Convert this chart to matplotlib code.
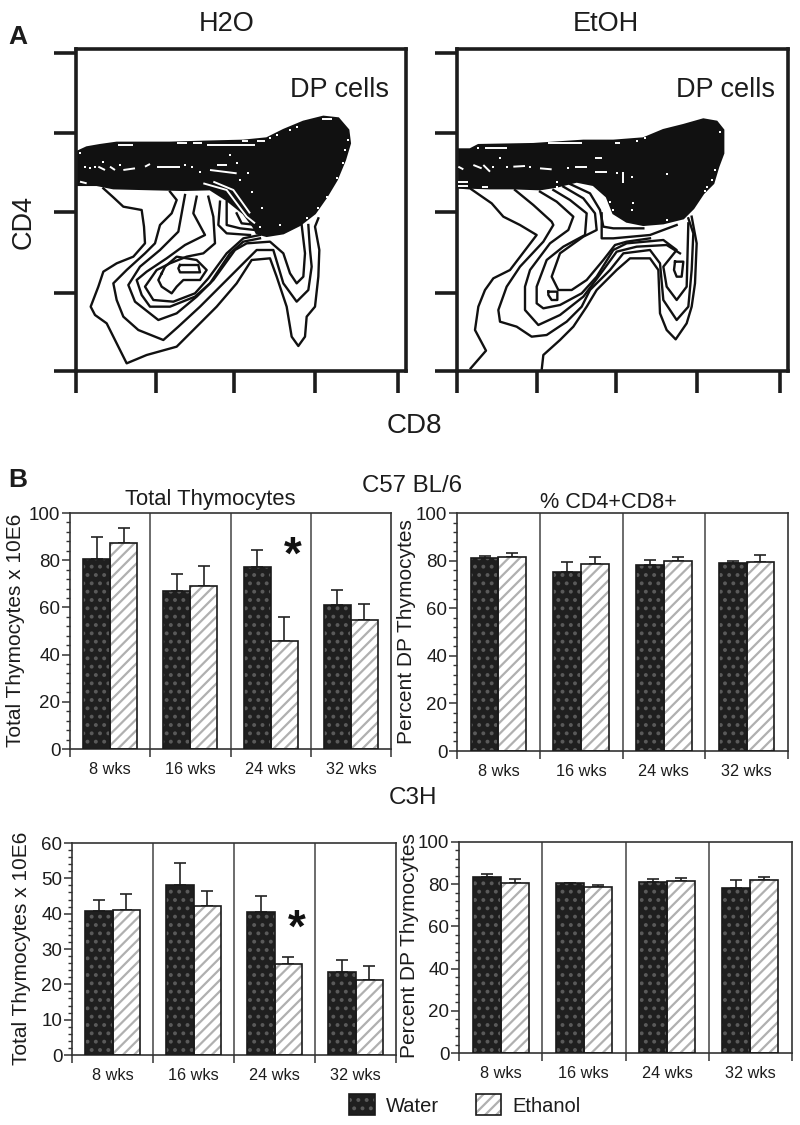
import matplotlib
matplotlib.use("Agg")
import numpy as np
from matplotlib import pyplot as plt
from matplotlib.legend_handler import HandlerTuple
from matplotlib.patches import Patch
from matplotlib.ticker import MultipleLocator

plt.rcParams['font.family'] = ['Liberation Sans', 'DejaVu Sans']
plt.rcParams['hatch.linewidth'] = 1.6

W, H = 800, 1125
INK = '#1c1c1c'

weeks = ['8 wks', '16 wks', '24 wks', '32 wks']

# bar heights and top of the error bars
c57_total_water = [80.5, 67.0, 77.3, 61.0]
c57_total_etoh = [87.5, 69.0, 45.7, 54.5]
c57_total_water_top = [89.7, 74.3, 84.5, 67.5]
c57_total_etoh_top = [93.8, 77.5, 55.8, 61.5]

c57_dp_water = [81.3, 75.3, 78.2, 78.8]
c57_dp_etoh = [81.7, 78.5, 80.0, 79.5]
c57_dp_water_top = [81.8, 79.5, 80.3, 80.0]
c57_dp_etoh_top = [83.2, 81.5, 81.5, 82.2]

c3h_total_water = [40.8, 48.2, 40.5, 23.5]
c3h_total_etoh = [41.0, 42.2, 25.8, 21.2]
c3h_total_water_top = [43.9, 54.3, 45.1, 26.9]
c3h_total_etoh_top = [45.5, 46.5, 27.8, 25.2]

c3h_dp_water = [83.3, 80.5, 81.2, 78.0]
c3h_dp_etoh = [80.7, 78.5, 81.3, 82.0]
c3h_dp_water_top = [85.0, 80.8, 82.3, 82.0]
c3h_dp_etoh_top = [82.3, 79.5, 82.8, 83.5]

# flow plots, in plot channels
h2o_blob = [(22, 125), (50, 112), (90, 105), (140, 98), (300, 98), (400, 95), (520, 92), (590, 85), (640, 60),
            (700, 35), (760, 20), (805, 25), (835, 60), (840, 100), (825, 150), (800, 210), (770, 260), (735, 310),
            (690, 345), (640, 370), (590, 378), (560, 370), (550, 350), (520, 310), (470, 270), (420, 238),
            (340, 240), (250, 238), (130, 235), (80, 225), (22, 225)]
h2o_contours = [
    [(100, 235), (130, 262), (160, 290), (215, 300), (222, 350), (225, 400), (190, 440), (140, 460), (100, 485),
     (85, 530), (62, 590), (75, 615), (110, 640), (135, 690), (170, 760), (230, 735), (320, 710), (380, 650),
     (440, 590), (500, 520), (545, 450), (600, 445), (620, 500), (650, 590), (665, 680), (685, 708), (705, 680),
     (710, 620), (735, 590), (745, 500), (748, 420), (735, 350), (745, 325)],
    [(300, 245), (320, 270), (305, 310), (270, 345), (255, 400), (225, 430), (170, 480), (130, 520), (140, 570),
     (160, 620), (205, 660), (280, 690), (325, 650), (390, 590), (450, 530), (510, 470), (560, 420), (610, 420),
     (640, 520), (680, 575), (715, 540), (725, 470), (720, 420), (715, 345)],
    [(345, 255), (335, 310), (325, 365), (270, 420), (210, 470), (175, 525), (195, 575), (265, 630), (320, 610),
     (380, 560), (430, 510), (495, 420), (530, 400), (600, 395), (640, 430), (660, 490), (680, 520), (700, 500),
     (705, 430), (695, 345)],
    [(380, 260), (370, 310), (405, 375), (345, 405), (290, 445), (230, 485), (200, 510), (215, 555), (240, 590),
     (300, 590), (375, 560), (420, 520), (480, 430), (520, 395), (570, 385)],
    [(415, 260), (430, 320), (435, 400), (400, 430), (350, 440), (300, 460), (260, 480), (225, 530), (250, 570),
     (310, 575), (375, 550), (415, 505), (470, 430), (520, 385), (570, 375)],
    [(450, 275), (445, 345), (470, 370), (540, 375)],
    [(470, 275), (470, 345), (510, 355), (555, 360)],
    [(500, 310), (515, 340), (560, 345)],
    [(275, 490), (285, 470), (320, 440), (380, 450), (410, 480), (390, 510), (340, 510), (320, 530), (305, 550),
     (275, 530), (265, 510), (275, 490)],
    [(330, 465), (385, 465), (390, 487), (330, 487), (325, 475), (330, 465)],
]
h2o_gaps = [
    [(145, 105), (190, 105)], [(320, 98), (350, 98)], [(370, 100), (395, 100)], [(410, 105), (555, 105)],
    [(515, 92), (535, 92)], [(560, 92), (585, 92)], [(440, 165), (470, 165)], [(420, 180), (500, 190)],
    [(30, 215), (50, 220)], [(225, 170), (240, 162)], [(260, 172), (330, 172)], [(160, 180), (195, 175)],
    [(85, 170), (105, 180)], [(120, 170), (135, 180)], [(400, 220), (470, 240), (530, 320), (555, 340)],
    [(430, 215), (490, 240), (540, 310)], [(755, 28), (785, 28)],
]
h2o_specks_x = [30, 45, 60, 75, 100, 150, 345, 365, 390, 480, 500, 510, 535, 545, 575, 570, 630, 710, 820, 800, 770,
                745, 620, 660, 835, 825, 600, 680]
h2o_specks_y = [130, 170, 175, 172, 155, 165, 165, 172, 185, 135, 160, 210, 190, 245, 295, 350, 345, 325, 160, 205, 260,
                295, 75, 60, 90, 120, 85, 50]

etoh_blob = [(22, 118), (60, 118), (85, 105), (250, 102), (400, 92), (490, 92), (580, 85), (640, 60), (700, 45),
             (760, 28), (800, 35), (820, 60), (820, 130), (805, 170), (790, 220), (760, 250), (730, 295), (700, 325),
             (640, 340), (580, 345), (530, 335), (490, 310), (470, 260), (430, 225), (380, 215), (320, 230),
             (270, 238), (190, 235), (120, 235), (22, 232)]
etoh_contours = [
    [(62, 775), (108, 722), (75, 660), (85, 590), (105, 540), (130, 505), (180, 480), (260, 375), (210, 345),
     (160, 320), (125, 280), (60, 235), (22, 232)],
    [(275, 780), (280, 735), (330, 690), (370, 650), (410, 590), (440, 540), (500, 480), (540, 445), (600, 445),
     (625, 480), (630, 610), (650, 660), (677, 688), (710, 640), (725, 590), (735, 520), (740, 400), (725, 320)],
    [(195, 240), (250, 285), (305, 335), (310, 345), (280, 395), (210, 470), (170, 530), (145, 600), (150, 635),
     (200, 650), (245, 680), (290, 675), (350, 635), (395, 590), (420, 540), (480, 480), (520, 430), (600, 420),
     (630, 460), (640, 570), (680, 630), (715, 590), (725, 480), (730, 370), (715, 325)],
    [(270, 245), (320, 275), (370, 320), (355, 360), (300, 400), (240, 480), (225, 530), (225, 600), (265, 645),
     (330, 615), (400, 560), (460, 480), (500, 425), (560, 410), (650, 405), (690, 430)],
    [(310, 240), (360, 270), (410, 310), (405, 375), (340, 410), (290, 450), (260, 530), (260, 580), (280, 595),
     (330, 585), (395, 550), (440, 500), (490, 420), (530, 400), (640, 390), (680, 420), (640, 470), (650, 530),
     (680, 570), (710, 530), (715, 340)],
    [(340, 230), (400, 265), (435, 310), (440, 360), (400, 380), (330, 430), (305, 500), (325, 540), (365, 540),
     (410, 510), (460, 450), (495, 405), (530, 395), (600, 385)],
    [(360, 222), (420, 250), (450, 300), (460, 350), (490, 355), (580, 355)],
    [(455, 310), (455, 385), (490, 385), (600, 375), (680, 345)],
    [(295, 545), (322, 545), (322, 570), (305, 570), (295, 555), (295, 545)],
    [(675, 455), (700, 455), (695, 500), (680, 500), (672, 480), (675, 455)],
]
etoh_gaps = [
    [(105, 115), (170, 115)], [(295, 98), (395, 98)], [(435, 143), (455, 143)], [(190, 170), (225, 168)],
    [(270, 175), (305, 178)], [(375, 172), (410, 172)], [(435, 185), (470, 185)], [(520, 185), (520, 220)],
    [(25, 170), (40, 178)], [(70, 165), (95, 175)], [(100, 165), (120, 185)], [(25, 215), (55, 215)],
    [(25, 228), (55, 228)], [(95, 230), (115, 230)], [(495, 98), (510, 98)],
]
etoh_specks_x = [85, 150, 130, 170, 240, 320, 355, 500, 545, 650, 795, 785, 770, 765, 810, 320, 480, 490, 550, 545,
                 650, 560, 585]
etoh_specks_y = [113, 143, 170, 172, 170, 215, 175, 190, 200, 192, 180, 210, 230, 243, 65, 230, 275, 300, 280, 300,
                 330, 92, 85]


def px_rect(left, top, right, bottom):
    return [left / W, 1 - bottom / H, (right - left) / W, (bottom - top) / H]


def put_text(x, y, s, **kw):
    kw.setdefault('ha', 'center')
    kw.setdefault('va', 'center')
    kw.setdefault('color', INK)
    fig.text(x / W, 1 - y / H, s, **kw)


def flow_panel(rect, xlim, xticks, blob, contours, gaps, specks_x, specks_y):
    ax = fig.add_axes(px_rect(*rect))
    ax.fill(*zip(*blob), color='#111111', lw=1.5, zorder=2)
    for line in contours:
        ax.plot(*zip(*line), color='#111111', lw=1.7, zorder=1)
    for line in gaps:
        ax.plot(*zip(*line), color='white', lw=1.4, zorder=3, solid_capstyle='butt')
    ax.scatter(specks_x, specks_y, s=3.5, color='white', marker='s', linewidths=0, zorder=3)
    ax.set_xlim(*xlim)
    ax.set_ylim(783, -183)
    ax.set_xticks(xticks)
    ax.set_yticks([783, 549, 306, 69, -171])
    ax.tick_params(length=16, width=2.6, color=INK, labelbottom=False, labelleft=False)
    for s in ax.spines.values():
        s.set_linewidth(2.6)
        s.set_color(INK)
    return ax


def bar_panel(rect, water, etoh, water_top, etoh_top, ymax, major, minor, sep_color='#444444'):
    ax = fig.add_axes(px_rect(*rect))
    pos = np.arange(4) + 0.5
    wid = 0.335
    for off, vals, tops, face, hatch, hatch_col in [(-wid / 2, water, water_top, '#1f1f1f', '..', '#5a5a5a'),
                                                   (wid / 2, etoh, etoh_top, 'white', '///', '#b0b0b0')]:
        ax.bar(pos + off, vals, wid, color=face, hatch=hatch, edgecolor=hatch_col, lw=0, zorder=2)
        ax.bar(pos + off, vals, wid, fill=False, edgecolor='#1a1a1a', lw=1.2, zorder=3)
        err = np.array(tops) - np.array(vals)
        ax.errorbar(pos + off, vals, yerr=[np.zeros(4), err], fmt='none', ecolor='#222222', elinewidth=1.2,
                    capsize=4, capthick=1.2, zorder=1)
    for x in [1, 2, 3]:
        ax.axvline(x, color=sep_color, lw=1.1, zorder=1)
    ax.set_xlim(0, 4)
    ax.set_ylim(0, ymax)
    ax.set_xticks([0, 1, 2, 3, 4])
    ax.set_xticklabels([])
    ax.set_xticks(pos, weeks, minor=True, fontsize=11.7, color=INK)
    ax.yaxis.set_major_locator(MultipleLocator(major))
    ax.yaxis.set_minor_locator(MultipleLocator(minor))
    ax.tick_params(axis='x', which='major', length=6, width=1.1, color='#333333')
    ax.tick_params(axis='x', which='minor', length=0, pad=9)
    ax.tick_params(axis='y', which='major', length=6, width=1.1, color='#333333', labelsize=13.5, labelcolor=INK, pad=1)
    ax.tick_params(axis='y', which='minor', length=3, width=1, color='#333333')
    for s in ax.spines.values():
        s.set_linewidth(1.2)
        s.set_color('#333333')
    return ax


fig = plt.figure(figsize=(W / 100, H / 100), dpi=100)

flow_panel((76, 49, 406, 371), (18, 1008), [18, 258, 492, 735, 984], h2o_blob, h2o_contours, h2o_gaps,
           h2o_specks_x, h2o_specks_y)
flow_panel((457, 49, 788, 371), (21, 1014), [21, 261, 498, 741, 990], etoh_blob, etoh_contours, etoh_gaps,
           etoh_specks_x, etoh_specks_y)

ax_a = bar_panel((70, 513, 391, 749), c57_total_water, c57_total_etoh, c57_total_water_top, c57_total_etoh_top,
                 100, 20, 4)
bar_panel((457, 513, 788, 751), c57_dp_water, c57_dp_etoh, c57_dp_water_top, c57_dp_etoh_top, 100, 20, 4)
ax_c = bar_panel((72, 843, 396, 1055), c3h_total_water, c3h_total_etoh, c3h_total_water_top, c3h_total_etoh_top,
                 60, 10, 2)
bar_panel((459, 842, 792, 1053), c3h_dp_water, c3h_dp_etoh, c3h_dp_water_top, c3h_dp_etoh_top, 100, 20, 4)

# significance stars
ax_a.text(2.78, 81.4, '*', fontsize=33, fontweight='bold', ha='center', va='center', color='#111111')
ax_c.text(2.78, 35.5, '*', fontsize=33, fontweight='bold', ha='center', va='center', color='#111111')

put_text(227, 24, 'H2O', fontsize=19.5)
put_text(606, 24, 'EtOH', fontsize=19.5)
put_text(339, 90, 'DP cells', fontsize=19.5)
put_text(725, 90, 'DP cells', fontsize=19.5)
put_text(24, 222, 'CD4', fontsize=19.5, rotation=90)
put_text(414, 426, 'CD8', fontsize=20)
put_text(8, 37, 'A', fontsize=19, fontweight='bold', ha='left')
put_text(8, 480, 'B', fontsize=19, fontweight='bold', ha='left')

put_text(412, 486, 'C57 BL/6', fontsize=17.3)
put_text(413, 798, 'C3H', fontsize=17.5)
put_text(210, 500, 'Total Thymocytes', fontsize=15.8)
put_text(608, 502, '% CD4+CD8+', fontsize=15.6)

put_text(16, 630, 'Total Thymocytes x 10E6', fontsize=15, rotation=90)
put_text(407, 632, 'Percent DP Thymocytes', fontsize=15, rotation=90)
put_text(22, 948, 'Total Thymocytes x 10E6', fontsize=15, rotation=90)
put_text(410, 946, 'Percent DP Thymocytes', fontsize=15, rotation=90)

water_handle = (Patch(facecolor='#1f1f1f', hatch='..', edgecolor='#5a5a5a', lw=0),
                Patch(fill=False, edgecolor='#1a1a1a', lw=1.2))
etoh_handle = (Patch(facecolor='white', hatch='///', edgecolor='#b0b0b0', lw=0),
               Patch(fill=False, edgecolor='#1a1a1a', lw=1.2))
fig.legend([water_handle, etoh_handle], ['Water', 'Ethanol'], ncol=2, frameon=False, fontsize=14.5,
           loc='center', bbox_to_anchor=(465 / W, 1 - 1105 / H), handlelength=1.25, handleheight=1.2,
           handletextpad=0.55, columnspacing=1.85, labelcolor=INK,
           handler_map={tuple: HandlerTuple(ndivide=1, pad=0)})

fig.savefig('out.png', dpi=100)
